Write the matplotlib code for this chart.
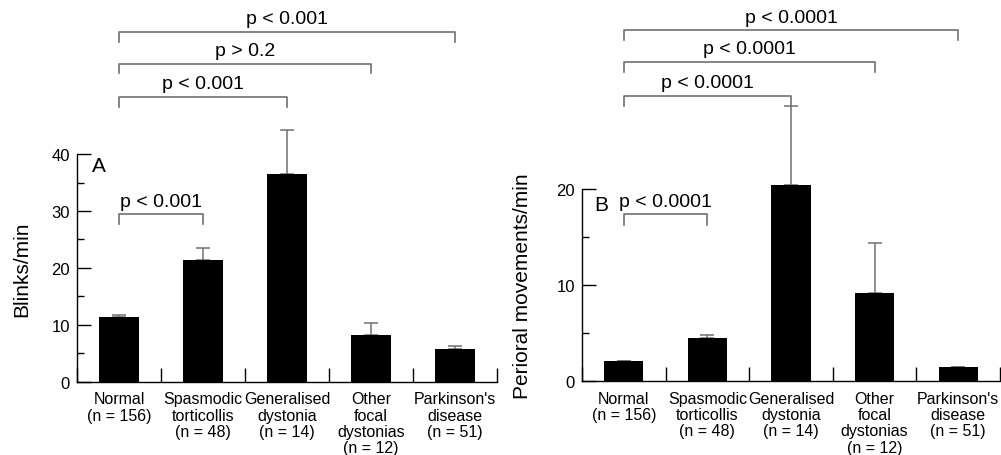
import numpy as np
import matplotlib
matplotlib.use("Agg")
import matplotlib.pyplot as plt

plt.rcParams["font.family"] = ["Liberation Sans", "DejaVu Sans"]

# ---- data ----
categories = ["Normal\n(n = 156)", "Spasmodic\ntorticollis\n(n = 48)",
              "Generalised\ndystonia\n(n = 14)", "Other\nfocal\ndystonias\n(n = 12)",
              "Parkinson's\ndisease\n(n = 51)"]
blinks = [11.3, 21.3, 36.5, 8.2, 5.7]
blinks_err = [0.5, 2.2, 7.8, 2.2, 0.6]
perioral = [2.1, 4.5, 20.4, 9.2, 1.45]
perioral_err = [0.05, 0.35, 8.2, 5.2, 0.08]

# comparisons: (group a, group b, label)
pvals_a = [(0, 1, "p < 0.001"), (0, 2, "p < 0.001"), (0, 3, "p > 0.2"), (0, 4, "p < 0.001")]
pvals_b = [(0, 1, "p < 0.0001"), (0, 2, "p < 0.0001"), (0, 3, "p < 0.0001"), (0, 4, "p < 0.0001")]
bracket_y_a = [29.4, 50.1, 55.9, 61.5]
bracket_y_b = [17.35, 29.7, 33.2, 36.5]

GRAY = "#707070"


def draw_panel(ax, values, errs, ymax, step, ylabel, letter, letter_xy,
               pvals, bracket_y, leg, label_x):
    x = np.arange(len(values))
    ax.bar(x, values, width=0.47, color="black", zorder=2, clip_on=False)
    ax.errorbar(x, values, yerr=[np.zeros(len(errs)), errs], fmt="none",
                ecolor=GRAY, elinewidth=1.1, capsize=5, capthick=1.1,
                zorder=1, clip_on=False)

    ax.set_xlim(-0.5, len(values) - 0.5)
    ax.set_ylim(0, ymax)
    for s in ["top", "right"]:
        ax.spines[s].set_visible(False)
    ax.spines["left"].set_linewidth(1.0)
    ax.spines["bottom"].set_linewidth(1.0)

    # y ticks inward, minor every half step
    ax.set_yticks(np.arange(0, ymax + 0.1, step))
    ax.set_yticks(np.arange(step / 2, ymax, step), minor=True)
    ax.tick_params(axis="y", which="major", direction="in", length=10,
                   width=1, labelsize=12, pad=5)
    ax.tick_params(axis="y", which="minor", direction="in", length=5, width=1)

    # x: boundary ticks upward, labels at centres
    ax.set_xticks(np.arange(-0.5, len(values), 1.0))
    ax.set_xticklabels([])
    ax.tick_params(axis="x", which="major", direction="in", length=10, width=1)
    ax.set_xticks(x, minor=True)
    ax.set_xticklabels(categories, minor=True, fontsize=11.5, linespacing=1.1,
                       va="top", ha="center")
    ax.tick_params(axis="x", which="minor", length=0, pad=7)

    ax.set_ylabel(ylabel, fontsize=15)
    ax.yaxis.set_label_coords(label_x, 0.5)

    ax.text(letter_xy[0], letter_xy[1], letter, transform=ax.transAxes,
            fontsize=15, ha="left", va="center")

    for (a, b, lab), yb in zip(pvals, bracket_y):
        ax.plot([a, a, b, b], [yb - leg, yb, yb, yb - leg], color=GRAY,
                lw=1.2, clip_on=False)
        ax.annotate(lab, xy=((a + b) / 2, yb), xytext=(0, 9.5),
                    textcoords="offset points", ha="center", va="center",
                    fontsize=14, annotation_clip=False)


fig = plt.figure(figsize=(10.01, 4.56), dpi=100)
ax_a = fig.add_axes([0.0769, 0.1607, 0.4196, 0.4993])
ax_b = fig.add_axes([0.5814, 0.1616, 0.4176, 0.4217])

draw_panel(ax_a, blinks, blinks_err, 40, 10, "Blinks/min", "A", (0.036, 0.949),
           pvals_a, bracket_y_a, 1.75, -0.11)
draw_panel(ax_b, perioral, perioral_err, 20, 10, "Perioral movements/min", "B",
           (0.03, 0.922), pvals_b, bracket_y_b, 1.05, -0.12)

fig.savefig("out.png", dpi=100)
